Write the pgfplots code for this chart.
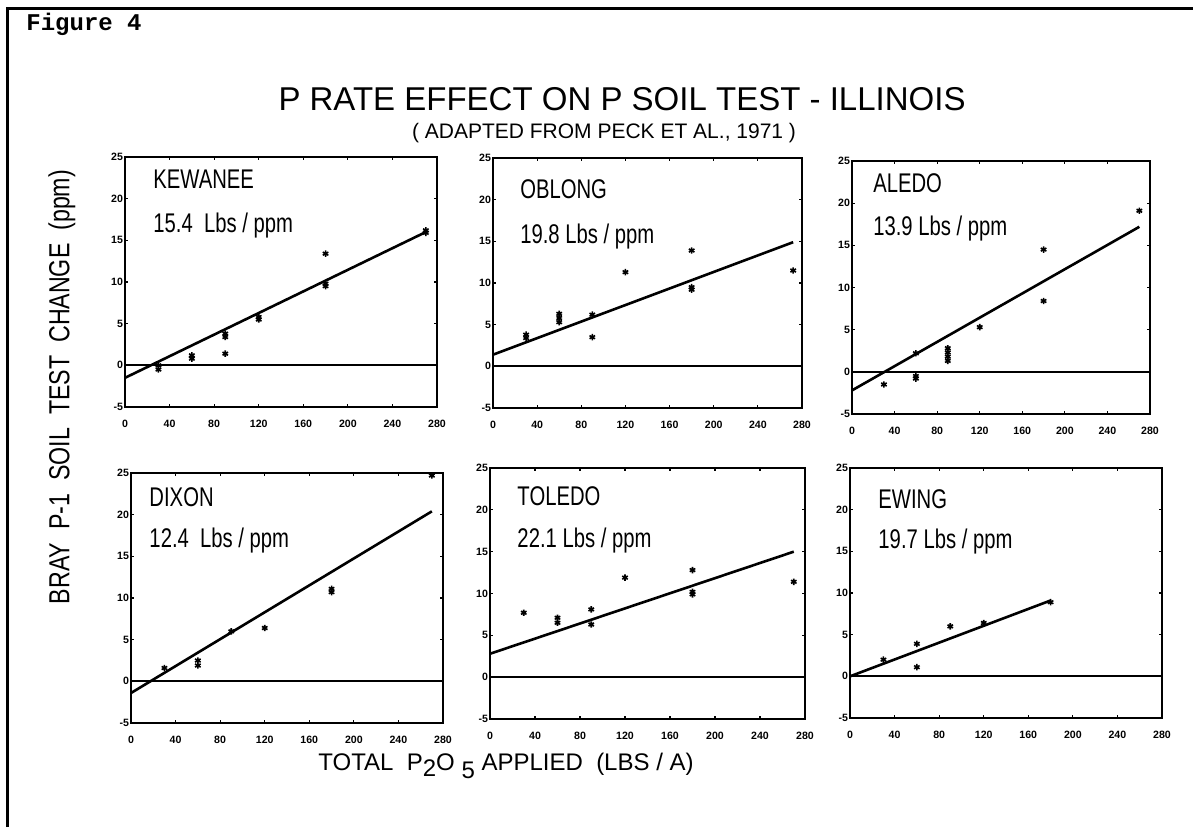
\documentclass[border=0pt]{standalone}
\usepackage{fontspec}
\setmainfont{Liberation Sans}
\newfontfamily\condf[FakeStretch=0.75]{Liberation Sans}
\newfontfamily\ylabf[FakeStretch=0.8]{Liberation Sans}
\newfontfamily\monof{Liberation Mono}
\usepackage{pgfplots}
\pgfplotsset{compat=1.18}
\tikzset{lab/.style={font=\condf\fontsize{13.5}{15}\selectfont, anchor=base west, inner sep=0pt}}
\pgfplotsset{
  panel/.style={
    scale only axis, anchor=south west,
    xmin=0, xmax=280, ymin=-5, ymax=25,
    xtick={0,40,...,280}, ytick={-5,0,...,25},
    tick align=inside, major tick length=1.6pt,
    axis line style={line width=1pt},
    every tick/.style={black, line width=0.6pt},
    ticklabel style={font=\fontsize{5.3}{6}\selectfont\bfseries},
    /pgf/number format/assume math mode=true,
    xticklabel style={yshift=-3pt},
    yticklabel style={inner sep=0.8pt},
    clip=false,
  },
  fitline/.style={black, line width=1.3pt},
  zeroline/.style={black, line width=0.9pt},
  pts/.style={only marks, mark=asterisk, mark size=1.6pt, black, mark options={line width=0.8pt}},
}
\begin{document}
\begin{tikzpicture}
\path[use as bounding box] (0,0) rectangle (596.5pt,413.5pt);
\draw[line width=1.5pt] (3.5pt,0pt) -- (3.5pt,409pt) -- (596.5pt,409pt);
\node[font=\monof\bfseries\fontsize{12}{14}\selectfont, anchor=base west, inner sep=0pt] at (13pt,398pt) {Figure 4};
\node[font=\fontsize{16.5}{18}\selectfont, inner sep=0pt] at (311pt,364pt) {P RATE EFFECT ON P SOIL TEST - ILLINOIS};
\node[font=\fontsize{10.5}{12}\selectfont, inner sep=0pt] at (302pt,347pt) {( ADAPTED FROM PECK ET AL., 1971 )};
\node[font=\ylabf\fontsize{14.5}{16}\selectfont, rotate=90, inner sep=0pt] at (31pt,220pt) {BRAY\ \ P-1\ \ SOIL\ \ TEST\ \ CHANGE\ \ (ppm)};
\node[font=\fontsize{12}{14}\selectfont, inner sep=0pt] at (253pt,30.5pt) {TOTAL\ \ P\raisebox{-3pt}{2}O \raisebox{-4pt}{5} APPLIED\ \ (LBS / A)};

% KEWANEE
\begin{axis}[panel, at={(62.5pt,210pt)}, width=156pt, height=125pt]
\addplot[zeroline] coordinates {(0,0) (280,0)};
\addplot[fitline] coordinates {(0,-1.5) (270,16)};
\addplot[pts] coordinates {(30,0) (30,-0.5) (60,1.2) (60,0.8) (90,3.8) (90,3.4) (90,1.4) (120,5.8) (120,5.5) (180,13.4) (180,9.8) (180,9.5) (270,16.2) (270,15.9)};
\node[lab] at (axis description cs:0.09,0.876) {KEWANEE};
\node[lab] at (axis description cs:0.09,0.70) {15.4\ \ Lbs / ppm};
\end{axis}

% OBLONG
\begin{axis}[panel, at={(246.5pt,209.5pt)}, width=154.5pt, height=125pt]
\addplot[zeroline] coordinates {(0,0) (280,0)};
\addplot[fitline] coordinates {(0,1.4) (272,14.9)};
\addplot[pts] coordinates {(30,3.8) (30,3.4) (60,6.3) (60,5.8) (60,5.3) (90,6.2) (90,3.5) (120,11.3) (180,13.9) (180,9.5) (180,9.2) (272,11.5)};
\node[lab] at (axis description cs:0.087,0.84) {OBLONG};
\node[lab] at (axis description cs:0.087,0.66) {19.8 Lbs / ppm};
\end{axis}

% ALEDO
\begin{axis}[panel, at={(426pt,206.5pt)}, width=149pt, height=126.5pt]
\addplot[zeroline] coordinates {(0,0) (280,0)};
\addplot[fitline] coordinates {(0,-2.2) (270,17.2)};
\addplot[pts] coordinates {(30,-1.5) (60,2.2) (60,-0.5) (60,-0.8) (90,2.8) (90,2.3) (90,1.8) (90,1.3) (120,5.3) (180,14.5) (180,8.4) (270,19.1)};
\node[lab] at (axis description cs:0.07,0.877) {ALEDO};
\node[lab] at (axis description cs:0.07,0.704) {13.9 Lbs / ppm};
\end{axis}

% DIXON
\begin{axis}[panel, at={(65.5pt,52pt)}, width=156pt, height=125pt]
\addplot[zeroline] coordinates {(0,0) (280,0)};
\addplot[fitline] coordinates {(0,-1.4) (270,20.4)};
\addplot[pts] coordinates {(30,1.6) (60,2.5) (60,1.9) (90,6.0) (120,6.4) (180,11.1) (180,10.7) (270,24.7)};
\node[lab] at (axis description cs:0.058,0.868) {DIXON};
\node[lab] at (axis description cs:0.058,0.704) {12.4\ \ Lbs / ppm};
\end{axis}

% TOLEDO
\begin{axis}[panel, at={(245pt,54pt)}, width=157.5pt, height=125.5pt]
\addplot[zeroline] coordinates {(0,0) (280,0)};
\addplot[fitline] coordinates {(0,2.8) (270,15.0)};
\addplot[pts] coordinates {(30,7.7) (60,7.1) (60,6.5) (90,8.1) (90,6.3) (120,11.9) (180,12.8) (180,10.2) (180,9.9) (270,11.4)};
\node[lab] at (axis description cs:0.086,0.849) {TOLEDO};
\node[lab] at (axis description cs:0.086,0.685) {22.1 Lbs / ppm};
\end{axis}

% EWING
\begin{axis}[panel, at={(425pt,54.5pt)}, width=156pt, height=125pt]
\addplot[zeroline] coordinates {(0,0) (280,0)};
\addplot[fitline] coordinates {(0,0) (180,9.1)};
\addplot[pts] coordinates {(30,2.0) (60,3.9) (60,1.1) (90,6.0) (120,6.4) (180,8.9)};
\node[lab] at (axis description cs:0.09,0.84) {EWING};
\node[lab] at (axis description cs:0.09,0.68) {19.7 Lbs / ppm};
\end{axis}
\end{tikzpicture}
\end{document}
